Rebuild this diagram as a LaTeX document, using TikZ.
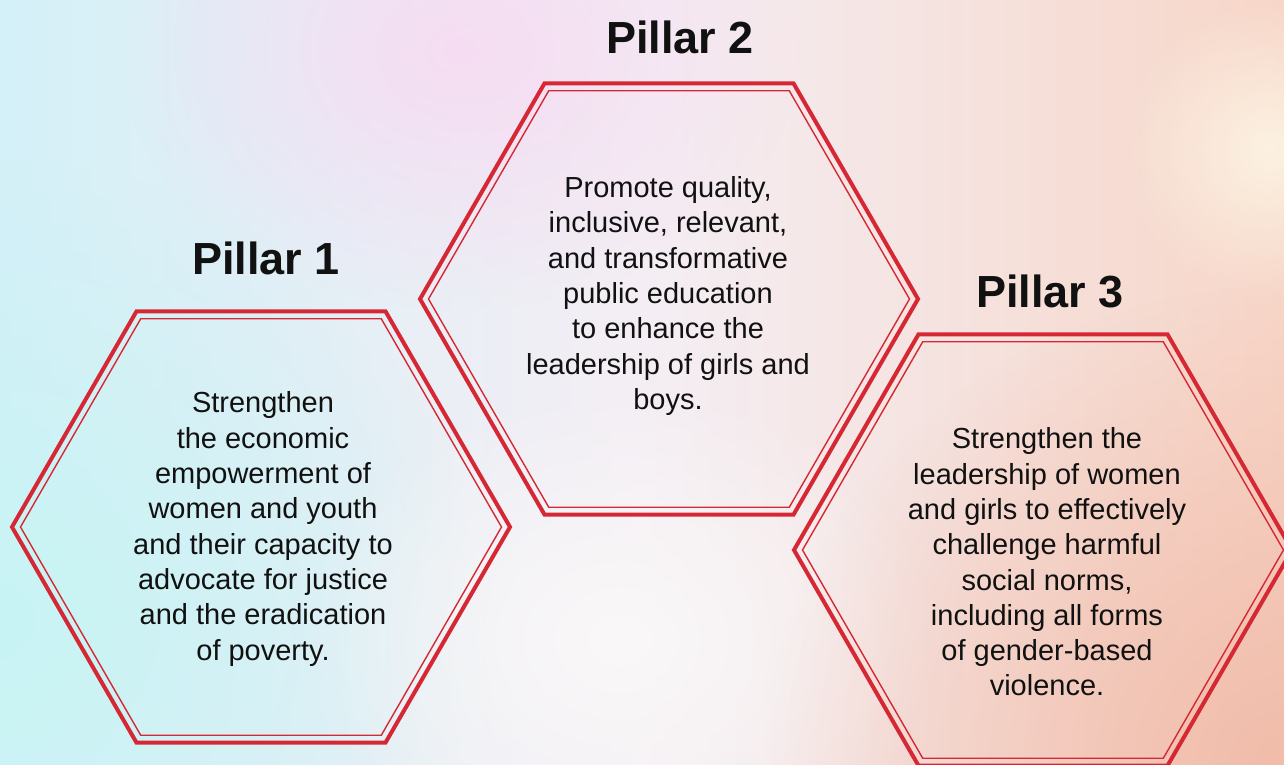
\documentclass[tikz,border=0pt]{standalone}
\usepackage{fontspec}
\setmainfont{Liberation Sans}
\usetikzlibrary{fadings}

\definecolor{pillarred}{RGB}{214,40,52}
\definecolor{textblack}{RGB}{17,17,17}
\definecolor{bgleft}{RGB}{212,240,248}
\definecolor{bgmid}{RGB}{244,238,244}
\definecolor{bgright}{RGB}{247,214,200}
\definecolor{bgpink}{RGB}{246,220,242}
\definecolor{bgcyan}{RGB}{200,244,244}
\definecolor{bgpeach}{RGB}{241,188,170}
\definecolor{bgwhite}{RGB}{250,248,248}
\definecolor{bgcream}{RGB}{252,242,226}

\tikzfading[name=blobfade, inner color=transparent!0, outer color=transparent!100]

\begin{document}
\begin{tikzpicture}
  [x=1pt,y=-1pt,
   every node/.style={align=center,text=textblack,inner sep=0pt},
   title/.style={font=\bfseries\fontsize{45}{52}\selectfont},
   body/.style={font=\fontsize{29}{35.3}\selectfont},
   hexouter/.style={draw=pillarred,line width=4pt,line join=miter},
   hexinner/.style={draw=pillarred,line width=1.4pt,line join=miter}]

  % background
  \useasboundingbox (0,0) rectangle (1284,765);
  \shade[left color=bgleft, right color=bgright, middle color=bgmid] (0,0) rectangle (1284,765);
  \begin{scope}
    \clip (0,0) rectangle (1284,765);
    \fill[bgcyan, path fading=blobfade] (0,620) ellipse [x radius=480pt, y radius=460pt];
    \fill[bgpink, path fading=blobfade] (460,50) ellipse [x radius=340pt, y radius=260pt];
    \fill[bgwhite, path fading=blobfade] (620,640) ellipse [x radius=320pt, y radius=260pt];
    \fill[bgpeach, path fading=blobfade] (1284,765) ellipse [x radius=520pt, y radius=480pt];
    \fill[bgcream, path fading=blobfade] (1270,150) ellipse [x radius=150pt, y radius=150pt];
  \end{scope}

  \coordinate (c1) at (261,527);
  \coordinate (c2) at (669,299);
  \coordinate (c3) at (1043,550);

  \foreach \c in {c1,c2,c3}{
    \draw[hexouter] (\c) +(0:249) -- +(60:249) -- +(120:249) -- +(180:249)
      -- +(240:249) -- +(300:249) -- cycle;
    \draw[hexinner] (\c) +(0:240.5) -- +(60:240.5) -- +(120:240.5) -- +(180:240.5)
      -- +(240:240.5) -- +(300:240.5) -- cycle;
  }

  \node[title] (t1) at (266,258) {Pillar 1};
  \node[title] (t2) at (680,37) {Pillar 2};
  \node[title] (t3) at (1050,291) {Pillar 3};

  \node[body] (p1) at (263,529) {Strengthen\\the economic\\empowerment of\\women and youth\\and their capacity to\\advocate for justice\\and the eradication\\of poverty.};
  \node[body] (p2) at (668,296) {Promote quality,\\inclusive, relevant,\\and transformative\\public education\\to enhance the\\leadership of girls and\\boys.};
  \node[body] (p3) at (1047,562) {Strengthen the\\leadership of women\\and girls to effectively\\challenge harmful\\social norms,\\including all forms\\of gender-based\\violence.};

\end{tikzpicture}
\end{document}
